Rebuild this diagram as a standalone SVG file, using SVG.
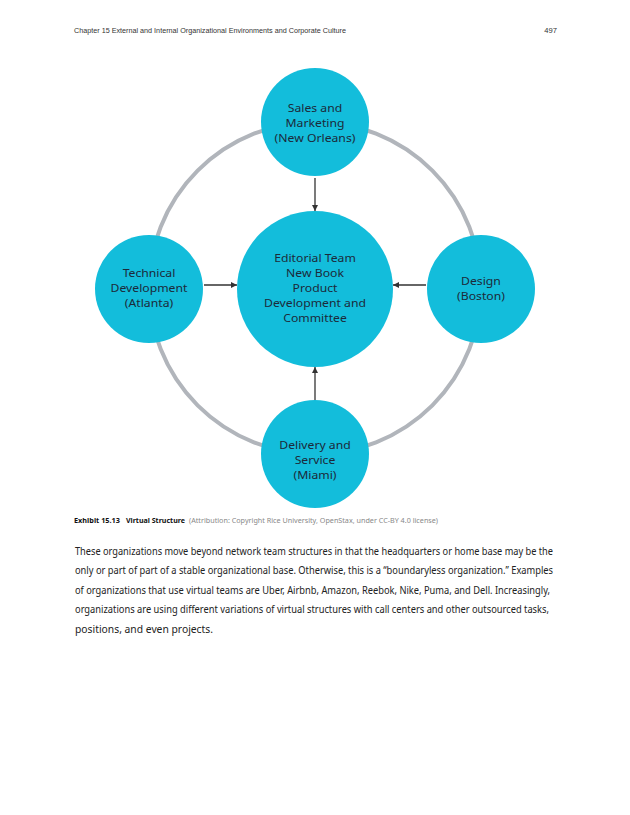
<svg xmlns="http://www.w3.org/2000/svg" width="630" height="815" viewBox="0 0 630 815">
<style>
.hdr{font-family:"Liberation Sans",Arial,sans-serif;font-size:7.6px;fill:#333}
.node{fill:#13bddb}
.lbl{font-family:"Noto Sans","Open Sans",sans-serif;font-size:10.9px;fill:#1c2a3a;text-anchor:middle}
.cap{font-family:"Noto Sans","Open Sans",sans-serif;font-size:7.3px}
.capb{font-weight:bold;fill:#111}
.capn{fill:#888}
.body{font-family:"Noto Sans","Open Sans",sans-serif;font-size:10.3px;fill:#222}
.conn{stroke:#333;stroke-width:1.3;fill:none}
</style>
<defs>
<marker id="ah" viewBox="0 0 10 10" refX="10" refY="5" markerWidth="6" markerHeight="6" markerUnits="userSpaceOnUse" orient="auto">
<path d="M0,0 L10,5 L0,10 z" fill="#333"/>
</marker>
</defs>
<rect width="630" height="815" fill="#fff"/>
<text class="hdr" x="74" y="33" textLength="272" lengthAdjust="spacingAndGlyphs">Chapter 15 External and Internal Organizational Environments and Corporate Culture</text>
<text class="hdr" x="557" y="33" text-anchor="end">497</text>

<circle id="ring" cx="315" cy="288" r="166" fill="none" stroke="#b1b5bb" stroke-width="4"/>

<g id="connectors">
<line class="conn" x1="315" y1="178" x2="315" y2="211" marker-end="url(#ah)"/>
<line class="conn" x1="204" y1="285" x2="237" y2="285" marker-end="url(#ah)"/>
<line class="conn" x1="426" y1="285" x2="393" y2="285" marker-end="url(#ah)"/>
<line class="conn" x1="315" y1="400" x2="315" y2="367" marker-end="url(#ah)"/>
</g>

<g id="sales">
<circle class="node" cx="315" cy="122" r="54"/>
<text class="lbl" transform="translate(315 0) scale(1.12 1)"><tspan x="0" y="112">Sales and</tspan><tspan x="0" y="127">Marketing</tspan><tspan x="0" y="142">(New Orleans)</tspan></text>
</g>
<g id="editorial">
<circle class="node" cx="315" cy="289" r="78"/>
<text class="lbl" transform="translate(315 0) scale(1.12 1)"><tspan x="0" y="262">Editorial Team</tspan><tspan x="0" y="277">New Book</tspan><tspan x="0" y="292">Product</tspan><tspan x="0" y="307">Development and</tspan><tspan x="0" y="322">Committee</tspan></text>
</g>
<g id="technical">
<circle class="node" cx="149" cy="289" r="54"/>
<text class="lbl" transform="translate(149 0) scale(1.12 1)"><tspan x="0" y="277">Technical</tspan><tspan x="0" y="292">Development</tspan><tspan x="0" y="307">(Atlanta)</tspan></text>
</g>
<g id="design">
<circle class="node" cx="481" cy="289" r="54"/>
<text class="lbl" transform="translate(481 0) scale(1.12 1)"><tspan x="0" y="285">Design</tspan><tspan x="0" y="300">(Boston)</tspan></text>
</g>
<g id="delivery">
<circle class="node" cx="315" cy="454" r="54"/>
<text class="lbl" transform="translate(315 0) scale(1.12 1)"><tspan x="0" y="449">Delivery and</tspan><tspan x="0" y="464">Service</tspan><tspan x="0" y="479">(Miami)</tspan></text>
</g>

<g id="caption">
<text class="cap capb" x="74" y="523" textLength="46" lengthAdjust="spacingAndGlyphs">Exhibit 15.13</text>
<text class="cap capb" x="126" y="523" textLength="59" lengthAdjust="spacingAndGlyphs">Virtual Structure</text>
<text class="cap capn" x="189" y="523" textLength="249" lengthAdjust="spacingAndGlyphs">(Attribution: Copyright Rice University, OpenStax, under CC-BY 4.0 license)</text>
</g>

<text class="body" x="75" y="555" textLength="478" lengthAdjust="spacingAndGlyphs">These organizations move beyond network team structures in that the headquarters or home base may be the</text>
<text class="body" x="75" y="574" textLength="478" lengthAdjust="spacingAndGlyphs">only or part of part of a stable organizational base. Otherwise, this is a “boundaryless organization.” Examples</text>
<text class="body" x="75" y="594" textLength="475" lengthAdjust="spacingAndGlyphs">of organizations that use virtual teams are Uber, Airbnb, Amazon, Reebok, Nike, Puma, and Dell. Increasingly,</text>
<text class="body" x="75" y="613" textLength="474" lengthAdjust="spacingAndGlyphs">organizations are using different variations of virtual structures with call centers and other outsourced tasks,</text>
<text class="body" x="75" y="633" textLength="138" lengthAdjust="spacingAndGlyphs">positions, and even projects.</text>
</svg>
